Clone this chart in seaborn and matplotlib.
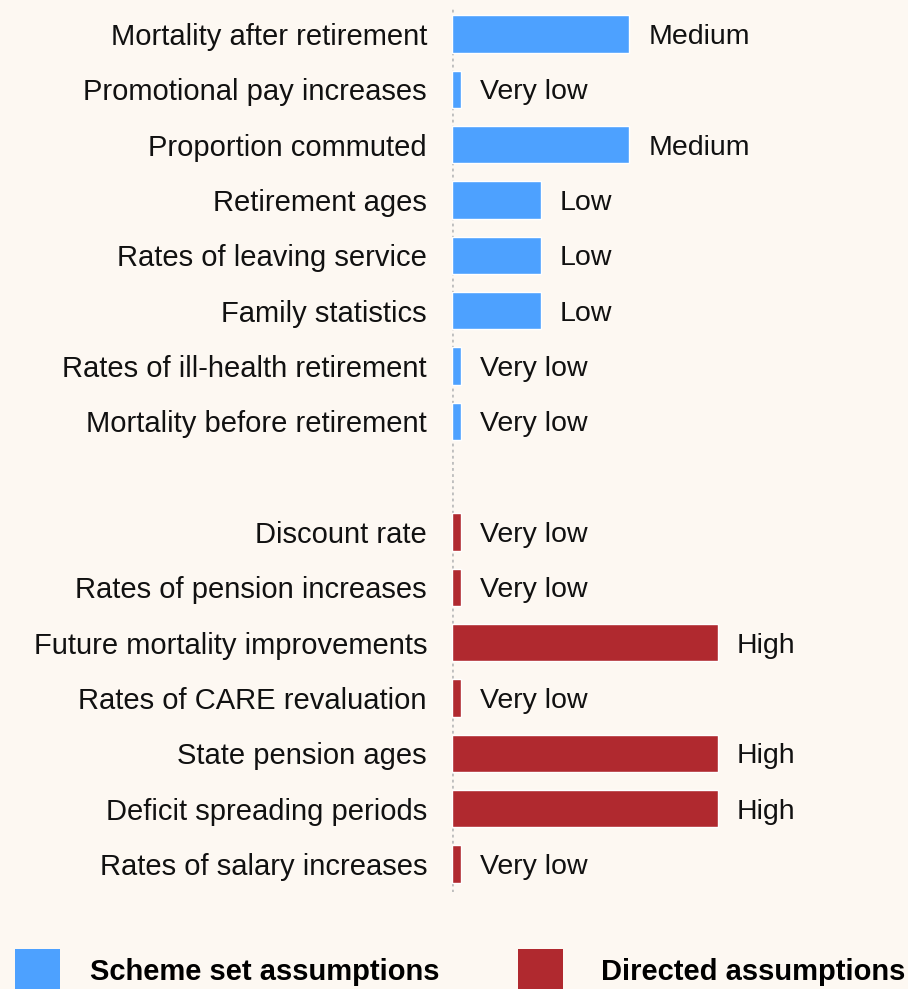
import matplotlib
matplotlib.use("Agg")
import matplotlib.pyplot as plt
import seaborn as sns
import pandas as pd
import numpy as np
from matplotlib.patches import Rectangle

scheme_labels = ["Mortality after retirement", "Promotional pay increases", "Proportion commuted",
                 "Retirement ages", "Rates of leaving service", "Family statistics",
                 "Rates of ill-health retirement", "Mortality before retirement"]
scheme_levels = ["Medium", "Very low", "Medium", "Low", "Low", "Low", "Very low", "Very low"]

directed_labels = ["Discount rate", "Rates of pension increases", "Future mortality improvements",
                   "Rates of CARE revaluation", "State pension ages", "Deficit spreading periods",
                   "Rates of salary increases"]
directed_levels = ["Very low", "Very low", "High", "Very low", "High", "High", "Very low"]

level_values = {"Very low": 0.1, "Low": 1.0, "Medium": 2.0, "High": 3.0}
groups = ["Scheme set assumptions", "Directed assumptions"]

BG = "#FDF8F2"
BLUE = "#4DA1FF"
RED = "#B0292F"

rows = []
for l, lev in zip(scheme_labels, scheme_levels):
    rows.append((l, level_values[lev], groups[0], lev))
rows.append((" ", np.nan, groups[0], ""))
for l, lev in zip(directed_labels, directed_levels):
    rows.append((l, level_values[lev], groups[1], lev))
df = pd.DataFrame(rows, columns=["assumption", "value", "group", "level"])
order = list(df["assumption"])

sns.set_theme(style="white")
plt.rcParams["font.family"] = ["Liberation Sans", "DejaVu Sans"]

fig = plt.figure(figsize=(9.08, 9.89), dpi=100, facecolor=BG)
W, H = 908, 989
ax = fig.add_axes([452 / W, (H - 891.7) / H, 1 - 452 / W, (891.7 - 6.3) / H])
ax.set_facecolor(BG)

sns.barplot(data=df.dropna(), x="value", y="assumption", hue="group", order=order,
            hue_order=groups, palette=[BLUE, RED], dodge=False, width=0.67,
            orient="h", ax=ax, legend=False, saturation=1)

ax.set_xlim(0, (W - 452) / 88.7)
ax.set_ylim(len(order) - 0.5, -0.5)
ax.set_xlabel("")
ax.set_ylabel("")
ax.set_xticks([])
ax.tick_params(axis="y", length=0, pad=18, labelsize=21, labelcolor="#111111")
for s in ["top", "right", "bottom", "left"]:
    ax.spines[s].set_visible(False)
ax.axvline(0, color="#BEBEBE", lw=2.0, ls=(0, (1, 1.2)), zorder=0)

for i, r in df.iterrows():
    if r["level"]:
        ax.annotate(r["level"], xy=(r["value"], i), xytext=(13.5, 0),
                    textcoords="offset points", va="center_baseline", ha="left",
                    fontsize=20.5, color="#111111")

# legend
fig.patches.append(Rectangle((15 / W, 0), 45 / W, 40 / H, transform=fig.transFigure,
                             facecolor=BLUE, edgecolor="none"))
fig.patches.append(Rectangle((518 / W, 0), 45 / W, 40 / H, transform=fig.transFigure,
                             facecolor=RED, edgecolor="none"))
fig.text(90 / W, (H - 972) / H, groups[0], fontsize=21, fontweight="bold",
         va="center", ha="left", color="#000000")
fig.text(601 / W, (H - 972) / H, groups[1], fontsize=21, fontweight="bold",
         va="center", ha="left", color="#000000")

fig.savefig("out.png", dpi=100, facecolor=BG)
